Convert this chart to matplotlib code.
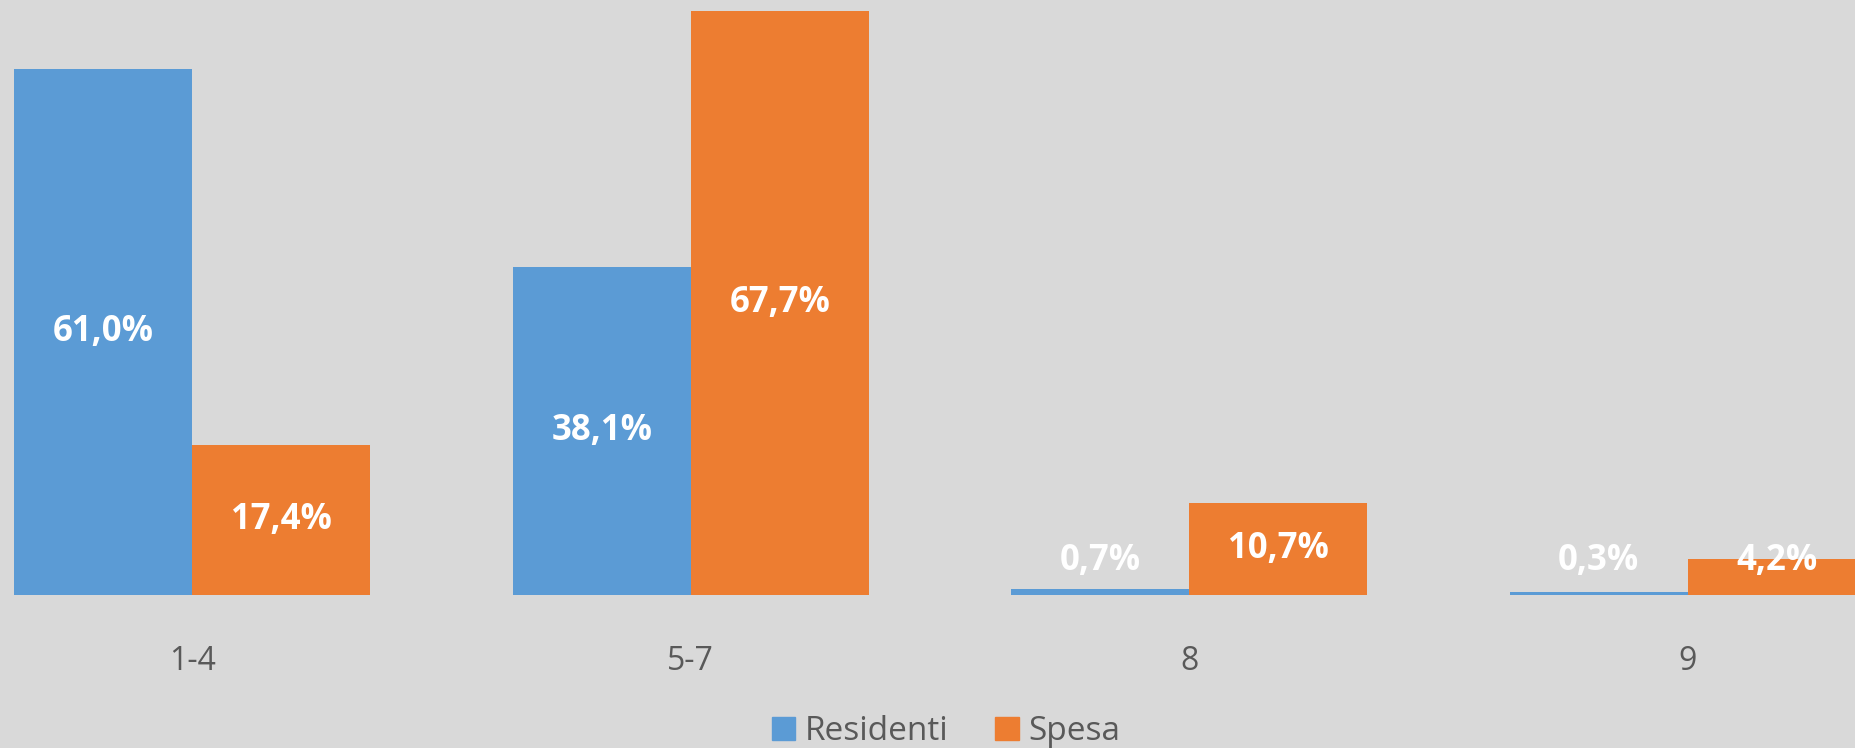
import matplotlib
matplotlib.use("Agg")
import matplotlib.pyplot as plt
import numpy as np
from matplotlib.patches import Patch

categories = ["1-4", "5-7", "8", "9"]
residenti = [61.0, 38.1, 0.7, 0.3]
spesa = [17.4, 67.7, 10.7, 4.2]
series_names = ["Residenti", "Spesa"]

BLUE = "#5B9BD5"
ORANGE = "#ED7D31"
BG = "#D9D9D9"
GREY = "#595959"

plt.rcParams['font.family'] = ['Open Sans', 'DejaVu Sans']

W, H = 1855, 748
fig = plt.figure(figsize=(W / 100, H / 100), dpi=100, facecolor=BG)
# axes extend beyond figure edges (chart is cropped)
left_px, right_px = -57, 1937
base_px = 153  # baseline from bottom
ymax = 70
px_per = 8.62
ax = fig.add_axes([left_px / W, base_px / H, (right_px - left_px) / W, ymax * px_per / H])
ax.set_facecolor(BG)

x = np.arange(len(categories))
bw = 0.357
ax.bar(x - bw / 2, residenti, bw, color=BLUE, label=series_names[0])
ax.bar(x + bw / 2, spesa, bw, color=ORANGE, label=series_names[1])

def fmt(v):
    return f"{v:.1f}%".replace(".", ",")

for xs, vals in ((x - bw / 2, residenti), (x + bw / 2, spesa)):
    for xi, v in zip(xs, vals):
        ax.text(xi, max(v / 2, 4.0), fmt(v), ha="center", va="center",
                color="white", fontsize=25, fontweight="bold")

ax.set_xlim(-0.5, 3.5)
ax.set_ylim(0, ymax)
ax.set_xticks(x)
ax.set_xticklabels(categories, fontsize=23, color=GREY)
ax.tick_params(axis="x", length=0, pad=36)
ax.set_yticks([])
for s in ax.spines.values():
    s.set_visible(False)

handles = [Patch(color=BLUE), Patch(color=ORANGE)]
fig.legend(handles, series_names, loc="center", bbox_to_anchor=(0.51, 0.022),
           ncol=2, frameon=False, fontsize=24, labelcolor=GREY,
           handlelength=0.7, handleheight=0.7, handletextpad=0.3, columnspacing=1.4)

fig.savefig("out.png", dpi=100, facecolor=BG)
